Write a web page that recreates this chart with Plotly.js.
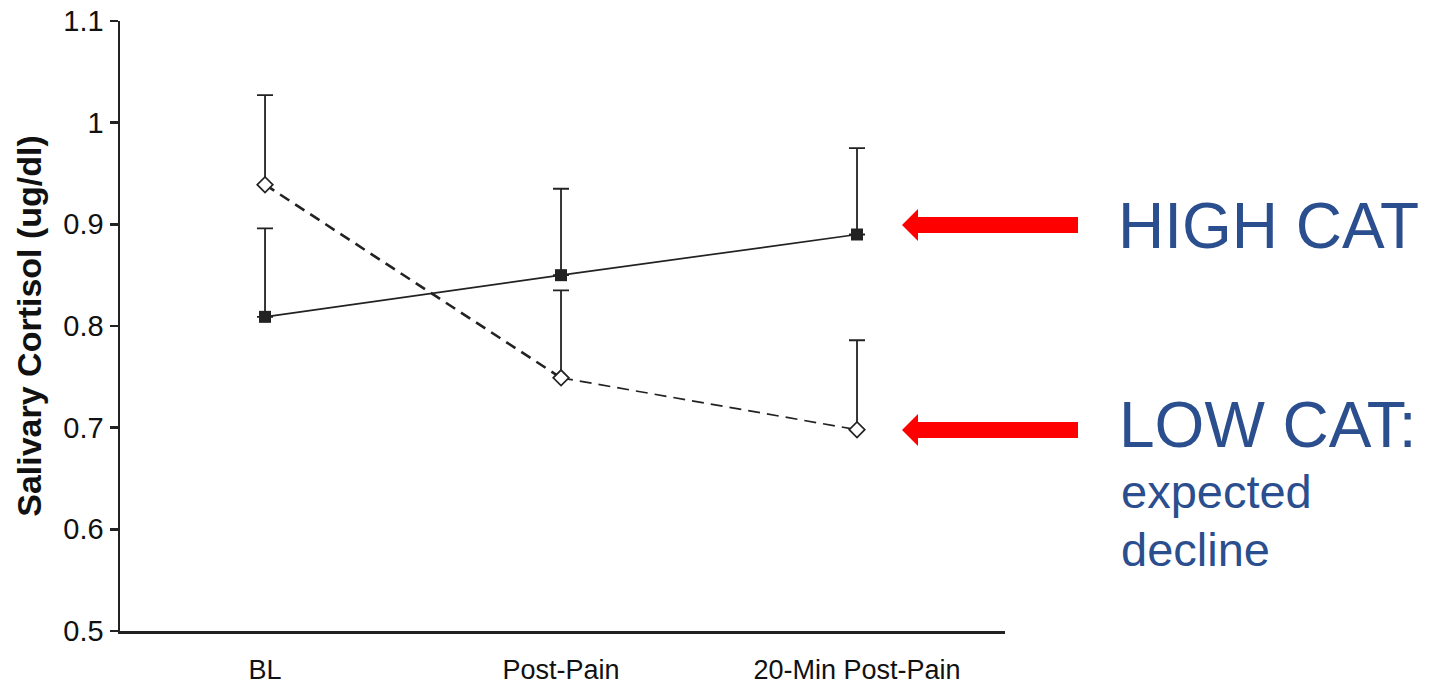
<!DOCTYPE html>
<html>
<head>
<meta charset="utf-8">
<script src="https://cdn.plot.ly/plotly-3.0.1.min.js"></script>
<style>
  html, body { margin: 0; padding: 0; background: #ffffff; }
  #chart { width: 1435px; height: 685px; }
</style>
</head>
<body>
<div id="chart"></div>
<script>
// ---- data ----
var categories = ["BL", "Post-Pain", "20-Min Post-Pain"];
var highCat = [0.809, 0.850, 0.890];
var highCatErr = [0.087, 0.085, 0.085];
var lowCat = [0.939, 0.749, 0.698];
var lowCatErr = [0.088, 0.086, 0.088];
var yTickVals = [0.5, 0.6, 0.7, 0.8, 0.9, 1.0, 1.1];
var yTickText = ["0.5", "0.6", "0.7", "0.8", "0.9", "1", "1.1"];
var yTitle = "Salivary Cortisol (ug/dl)";
var highLabel = "HIGH CAT";
var lowLabel = "LOW CAT:";
var lowNote1 = "expected";
var lowNote2 = "decline";

// ---- layout geometry ----
var W = 1435, H = 685;
var M = { l: 120, r: 430, t: 21, b: 54 };
var PW = W - M.l - M.r, PH = H - M.t - M.b;
function px(x) { return (x - M.l) / PW; }
function py(y) { return (H - M.b - y) / PH; }

var ink = "#222222";
var blue = "#2A4E8E";
var red = "#FF0000";
var fam = "'Liberation Sans', Arial, sans-serif";

var idx = categories.map(function (_, i) { return i; });

var traces = [
  // LOW CAT dashed segments
  { x: idx.slice(0, 2), y: lowCat.slice(0, 2), mode: "lines", hoverinfo: "skip",
    line: { color: ink, width: 2.6, dash: "11px,7px" } },
  { x: idx.slice(1, 3), y: lowCat.slice(1, 3), mode: "lines", hoverinfo: "skip",
    line: { color: ink, width: 1.7, dash: "12px,7px" } },
  // HIGH CAT solid line
  { x: idx, y: highCat, mode: "lines", hoverinfo: "skip",
    line: { color: ink, width: 1.7 } },
  // HIGH CAT markers + error bars
  { x: idx, y: highCat, mode: "markers", name: "HIGH CAT",
    marker: { symbol: "square", size: 12, color: ink, line: { width: 0 } },
    error_y: { type: "data", symmetric: false, array: highCatErr,
               arrayminus: highCatErr.map(function () { return 0; }),
               color: ink, thickness: 1.8, width: 8 } },
  // LOW CAT markers + error bars
  { x: idx, y: lowCat, mode: "markers", name: "LOW CAT",
    marker: { symbol: "diamond", size: 12, color: "#ffffff", line: { color: ink, width: 1.7 } },
    error_y: { type: "data", symmetric: false, array: lowCatErr,
               arrayminus: lowCatErr.map(function () { return 0; }),
               color: ink, thickness: 1.8, width: 8 } }
];

function arrowPath(tipX, cy) {
  var hb = tipX + 16, end = tipX + 176;
  var pts = [[tipX, cy], [hb, cy - 16], [hb, cy - 8], [end, cy - 8],
             [end, cy + 8], [hb, cy + 8], [hb, cy + 16]];
  return "M" + pts.map(function (p) { return px(p[0]) + "," + py(p[1]); }).join(" L") + " Z";
}

var layout = {
  width: W, height: H,
  margin: M,
  paper_bgcolor: "#ffffff",
  plot_bgcolor: "#ffffff",
  showlegend: false,
  font: { family: fam, color: "#111111" },
  xaxis: {
    range: [-0.49, 2.5],
    tickmode: "array", tickvals: idx, ticktext: categories,
    showgrid: false, zeroline: false,
    showline: true, linecolor: ink, linewidth: 2.5,
    ticks: "outside", ticklen: 13, tickcolor: "rgba(0,0,0,0)",
    tickfont: { size: 27, family: fam, color: "#111111" },
    fixedrange: true
  },
  yaxis: {
    range: [0.5, 1.1],
    tickmode: "array", tickvals: yTickVals, ticktext: yTickText,
    showgrid: false, zeroline: false,
    showline: true, linecolor: ink, linewidth: 2.5,
    ticks: "outside", ticklen: 8, tickwidth: 2.5, tickcolor: ink,
    tickfont: { size: 29, family: fam, color: "#111111" },
    title: { text: "<b>" + yTitle + "</b>", font: { size: 34, family: fam, color: "#111111" }, standoff: 12 },
    fixedrange: true
  },
  shapes: [
    { type: "path", xref: "paper", yref: "paper", path: arrowPath(902, 225),
      fillcolor: red, line: { width: 0 } },
    { type: "path", xref: "paper", yref: "paper", path: arrowPath(902, 430),
      fillcolor: red, line: { width: 0 } }
  ],
  annotations: [
    { xref: "paper", yref: "paper", x: px(1116), y: py(226), xanchor: "left", yanchor: "middle",
      text: highLabel, showarrow: false, font: { size: 64, family: fam, color: blue } },
    { xref: "paper", yref: "paper", x: px(1117), y: py(425), xanchor: "left", yanchor: "middle",
      text: lowLabel, showarrow: false, font: { size: 64, family: fam, color: blue } },
    { xref: "paper", yref: "paper", x: px(1119), y: py(492), xanchor: "left", yanchor: "middle",
      text: lowNote1, showarrow: false, font: { size: 47, family: fam, color: blue } },
    { xref: "paper", yref: "paper", x: px(1119), y: py(549), xanchor: "left", yanchor: "middle",
      text: lowNote2, showarrow: false, font: { size: 47, family: fam, color: blue } }
  ]
};

Plotly.newPlot("chart", traces, layout, { displayModeBar: false, staticPlot: true });
</script>
</body>
</html>
